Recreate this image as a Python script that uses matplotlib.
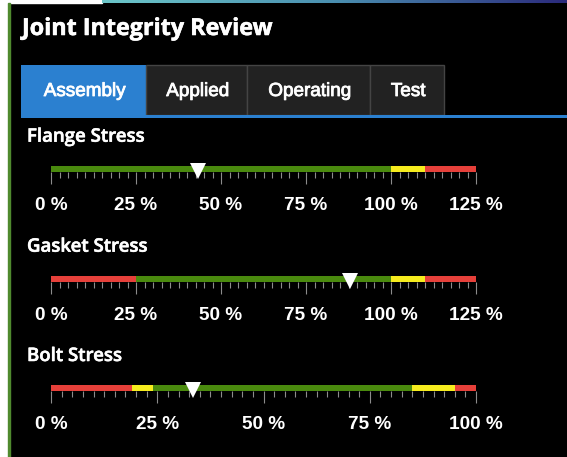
import numpy as np
import matplotlib
matplotlib.use("Agg")
import matplotlib.pyplot as plt
from matplotlib.patches import Rectangle
from matplotlib.ticker import MultipleLocator
from matplotlib.colors import LinearSegmentedColormap
import matplotlib.patheffects as pe

# ---------------- data ----------------
title = "Joint Integrity Review"
tabs = ["Assembly", "Applied", "Operating", "Test"]
active_tab = "Assembly"

gauge_names = ["Flange Stress", "Gasket Stress", "Bolt Stress"]

flange_edges = [0, 100, 110, 125]
flange_zones = ["ok", "warn", "bad"]
flange_value = 43.2
flange_ticks = [0, 25, 50, 75, 100, 125]
flange_labels = ["0 %", "25 %", "50 %", "75 %", "100 %", "125 %"]

gasket_edges = [0, 25, 100, 110, 125]
gasket_zones = ["bad", "ok", "warn", "bad"]
gasket_value = 88
gasket_ticks = [0, 25, 50, 75, 100, 125]
gasket_labels = ["0 %", "25 %", "50 %", "75 %", "100 %", "125 %"]

bolt_edges = [0, 19, 24, 85, 95, 100]
bolt_zones = ["bad", "warn", "ok", "warn", "bad"]
bolt_value = 33.5
bolt_ticks = [0, 25, 50, 75, 100]
bolt_labels = ["0 %", "25 %", "50 %", "75 %", "100 %"]

# ---------------- style ----------------
W, H = 567, 457
ZONE_COLORS = {"ok": "#4a8a0e", "warn": "#f6ec1e", "bad": "#e6403a"}
BLUE = "#2b80d0"
TAB_DARK = "#222222"
TAB_EDGE = "#444444"
TICK_COLOR = "#8c8c8c"

fig = plt.figure(figsize=(W / 100, H / 100), dpi=100, facecolor="black")

# background / chrome axes in pixel coordinates
bg = fig.add_axes([0, 0, 1, 1])
bg.set_xlim(0, W)
bg.set_ylim(H, 0)
bg.axis("off")
bg.set_facecolor("black")
bg.add_patch(Rectangle((0, 0), W, H, color="black", zorder=0))
bg.add_patch(Rectangle((0, 0), 8, H, color="white", zorder=1))
bg.add_patch(Rectangle((0, 0), 102, 3, color="white", zorder=1))
bg.add_patch(Rectangle((8, 3), 1.6, H, color="#4f8a2e", zorder=2))

# gradient strip at top
grad_ax = fig.add_axes([102 / W, 1 - 3 / H, (W - 102) / W, 3 / H])
grad_ax.axis("off")
cmap = LinearSegmentedColormap.from_list("g", ["#6cc6c9", "#4a8fb0", "#2b2a7c"])
grad_ax.imshow(np.linspace(0, 1, 256)[None, :], aspect="auto", cmap=cmap)

# title
bg.text(22, 35, title, color="white", fontsize=16.8, fontweight="bold",
        family=["Open Sans", "DejaVu Sans"], va="baseline", ha="left", zorder=5,
        path_effects=[pe.withStroke(linewidth=0.4, foreground="white")])

thicken = [pe.withStroke(linewidth=0.6, foreground="white")]

# tabs
tab_edges_px = [21, 146, 247, 370, 444]
tab_top, tab_bot = 65, 115
for i, name in enumerate(tabs):
    x0, x1 = tab_edges_px[i], tab_edges_px[i + 1]
    if name == active_tab:
        bg.add_patch(Rectangle((x0, tab_top), x1 - x0, tab_bot - tab_top,
                               facecolor=BLUE, edgecolor="none", zorder=3))
    else:
        bg.add_patch(Rectangle((x0, tab_top), x1 - x0, tab_bot - tab_top,
                               facecolor=TAB_DARK, edgecolor=TAB_EDGE, lw=1.0, zorder=3))
    bg.text((x0 + x1) / 2 + 1, 96, name, color="white", fontsize=13.6,
            family=["Liberation Sans", "DejaVu Sans"], ha="center", va="baseline",
            zorder=5, path_effects=thicken)
bg.add_patch(Rectangle((21, 115), W - 21, 3, facecolor=BLUE, edgecolor="none", zorder=4))

# gauges
gauges = [
    (flange_edges, flange_zones, flange_value, flange_ticks, flange_labels),
    (gasket_edges, gasket_zones, gasket_value, gasket_ticks, gasket_labels),
    (bolt_edges, bolt_zones, bolt_value, bolt_ticks, bolt_labels),
]
bar_tops = [166, 276, 385]
label_baselines = [141.7, 251.7, 361]
bar_left, bar_width, bar_h = 51, 425, 6

for name, (edges, zones, value, ticks, labels), top, lb in zip(
        gauge_names, gauges, bar_tops, label_baselines):
    bg.text(27, lb, name, color="white", fontsize=13.4, fontweight="semibold",
            family=["Open Sans", "DejaVu Sans"], va="baseline", ha="left", zorder=5,
            path_effects=[pe.withStroke(linewidth=0.4, foreground="white")])

    ax = fig.add_axes([bar_left / W, 1 - (top + bar_h) / H, bar_width / W, bar_h / H])
    ax.set_facecolor("none")
    lefts = edges[:-1]
    widths = np.diff(edges)
    ax.barh([0.5] * len(lefts), widths, left=lefts, height=1.0,
            color=[ZONE_COLORS[z] for z in zones], linewidth=0)
    ax.set_xlim(edges[0], edges[-1])
    ax.set_ylim(0, 1)
    for s in ax.spines.values():
        s.set_visible(False)
    ax.set_yticks([])
    ax.set_xticks(ticks)
    ax.set_xticklabels(labels)
    ax.xaxis.set_minor_locator(MultipleLocator(2.5))
    ax.tick_params(axis="x", which="major", direction="out", length=8.6, width=0.8,
                   color=TICK_COLOR, pad=9.2, labelcolor="white", labelsize=13.7)
    ax.tick_params(axis="x", which="minor", direction="out", length=4.3, width=0.8,
                   color=TICK_COLOR)
    for t in ax.get_xticklabels():
        t.set_fontfamily(["Liberation Sans", "DejaVu Sans"])
        t.set_fontweight("bold")
    # marker
    ax.plot([value], [0.25], marker="v", markersize=11.5, color="white",
            markeredgewidth=0, linestyle="none", clip_on=False, zorder=5)

fig.savefig("out.png", dpi=100, facecolor="black")
